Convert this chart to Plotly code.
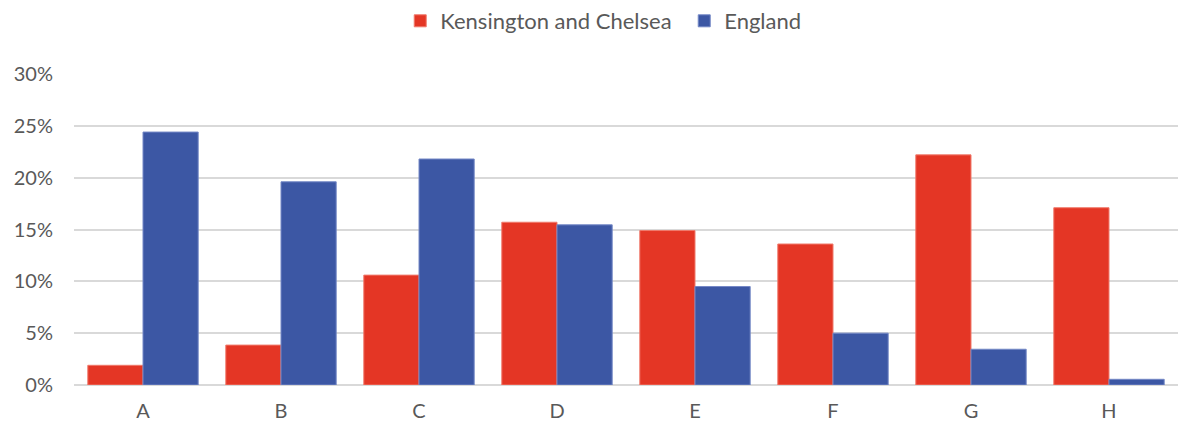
import plotly.graph_objects as go

categories = ["A", "B", "C", "D", "E", "F", "G", "H"]
kensington = [1.9, 3.85, 10.6, 15.7, 14.9, 13.6, 22.2, 17.1]
england = [24.4, 19.6, 21.8, 15.45, 9.5, 5.0, 3.45, 0.55]
y_ticks = [0, 5, 10, 15, 20, 25, 30]
y_tick_text = [f"{v}%" for v in y_ticks]

RED = "#E43625"
BLUE = "#3C57A4"
TEXT = "#595959"
GRID = "#D9D9D9"
FONT = "Lato, 'Open Sans', sans-serif"

fig = go.Figure()
fig.add_trace(go.Bar(
    name="Kensington and Chelsea", x=categories, y=kensington,
    marker=dict(color=RED, line=dict(color="#F07A6C", width=1)),
))
fig.add_trace(go.Bar(
    name="England", x=categories, y=england,
    marker=dict(color=BLUE, line=dict(color="#7488C6", width=1)),
))

fig.update_layout(
    width=1178, height=428,
    margin=dict(l=74, r=0, t=73, b=43),
    paper_bgcolor="white", plot_bgcolor="white",
    barmode="group", bargap=0.2, bargroupgap=0,
    font=dict(family=FONT, size=20, color=TEXT),
    legend=dict(
        orientation="h", x=0.2955, xanchor="left", y=1.17, yanchor="middle",
        font=dict(family=FONT, size=22, color=TEXT),
        itemwidth=30, tracegroupgap=0, entrywidth=239,
    ),
    showlegend=True,
)
fig.update_yaxes(
    range=[0, 30], tickvals=y_ticks, ticktext=y_tick_text,
    showgrid=True, gridcolor=GRID, gridwidth=2,
    zeroline=True, zerolinecolor=GRID, zerolinewidth=2,
    showline=False, ticks="", ticklabelstandoff=20,
)
fig.update_xaxes(
    showgrid=False, showline=False, ticks="", ticklabelstandoff=12,
)

fig.write_html("out.html")
